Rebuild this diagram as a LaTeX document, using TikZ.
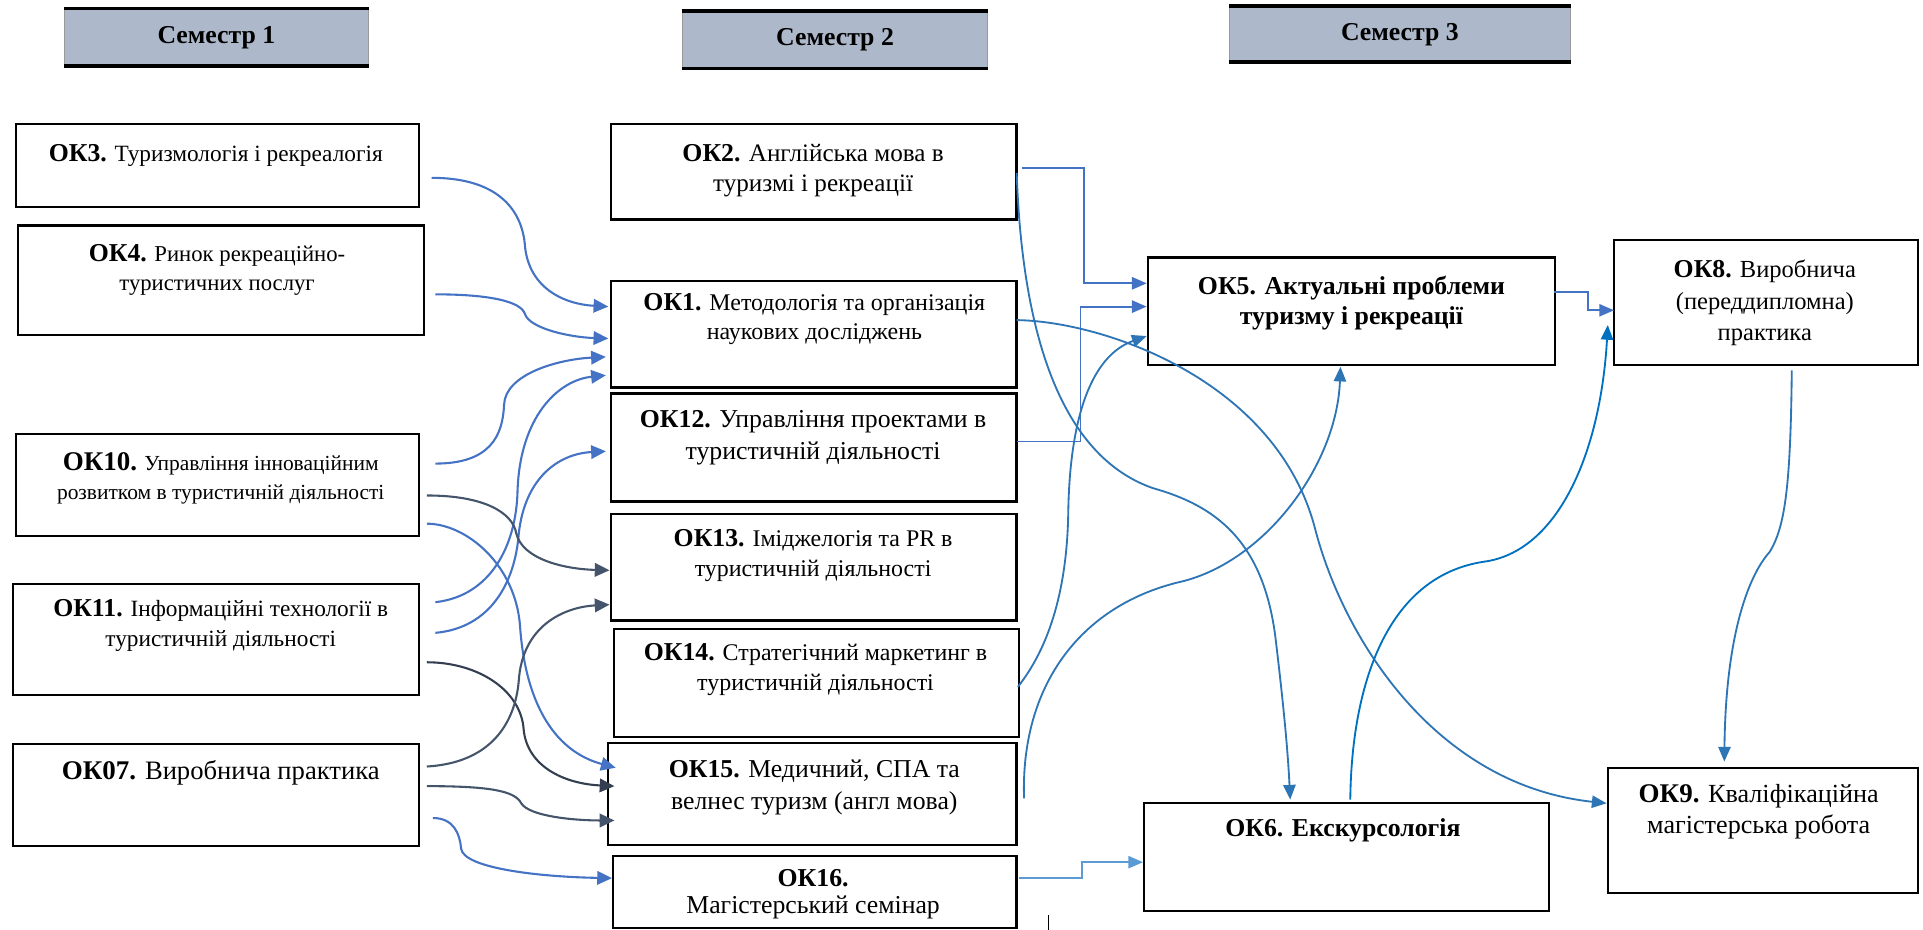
\documentclass[tikz,border=0pt]{standalone}
\usepackage{fontspec}
\setmainfont{Liberation Serif}
\usetikzlibrary{arrows.meta}
\definecolor{hdr}{HTML}{ADB9CA}
\definecolor{cA}{HTML}{4472C4}
\definecolor{cS}{HTML}{44546A}
\definecolor{cN}{HTML}{333F50}
\definecolor{cB}{HTML}{2E75B6}
\definecolor{cC}{HTML}{0070C0}
\definecolor{cL}{HTML}{5B9BD5}
\newcommand\fsz[2]{\fontsize{#1}{#2}\selectfont}
\newcommand\lbl[2][21]{{\fsz{#1}{25}\bfseries #2}}
\begin{document}
\begin{tikzpicture}[x=1pt,y=-1pt,
  box/.style={draw=black, line width=1.8pt, anchor=north west, inner sep=0pt},
  hd/.style={fill=hdr, draw=gray!80, line width=0.8pt, anchor=north west, inner sep=0pt, font=\fsz{21}{24}\bfseries},
  txt/.style={align=center, inner sep=0pt},
  conn/.style={line width=1.7pt, -{Triangle[length=12pt,width=11pt]}},
  connr/.style={line width=1.5pt, -{Triangle[length=12pt,width=10pt]}},
]
\useasboundingbox (0,0) rectangle (1568,758);

% headers
\node[hd, minimum width=248pt, minimum height=46pt] (s1) at (52,7) {Семестр 1};
\node[hd, minimum width=249pt, minimum height=46pt] (s2) at (556,9) {Семестр 2};
\node[hd, minimum width=278pt, minimum height=45pt] (s3) at (1002,5) {Семестр 3};
\foreach \h in {s1,s2,s3}{
  \draw[line width=3pt] (\h.north west) -- (\h.north east);
  \draw[line width=3pt] (\h.south west) -- (\h.south east);
}

% boxes
\node[box, minimum width=329pt, minimum height=68pt] (ok3) at (12,100) {};
\node[box, minimum width=331pt, minimum height=89pt] (ok4) at (14,183) {};
\node[box, minimum width=329pt, minimum height=83pt] (ok10) at (12,353) {};
\node[box, minimum width=331pt, minimum height=91pt] (ok11) at (10,475) {};
\node[box, minimum width=331pt, minimum height=83pt] (ok07) at (10,606) {};
\node[box, minimum width=331pt, minimum height=78pt] (ok2) at (497,100) {};
\node[box, minimum width=331pt, minimum height=87pt] (ok1) at (497,228) {};
\node[box, minimum width=331pt, minimum height=88pt] (ok12) at (497,320) {};
\node[box, minimum width=331pt, minimum height=87pt] (ok13) at (497,418) {};
\node[box, minimum width=330pt, minimum height=88pt] (ok14) at (500,512) {};
\node[box, minimum width=333pt, minimum height=83pt] (ok15) at (495,605) {};
\node[box, minimum width=329pt, minimum height=59pt] (ok16) at (499,697) {};
\node[box, minimum width=332pt, minimum height=88pt] (ok5) at (935,209) {};
\node[box, minimum width=330pt, minimum height=88pt] (ok6) at (932,654) {};
\node[box, minimum width=248pt, minimum height=102pt] (ok8) at (1315,195) {};
\node[box, minimum width=253pt, minimum height=102pt] (ok9) at (1310,625) {};

% texts
\node[txt, font=\fsz{19}{24}] (t3) at (176,127) {\lbl{ОК3.} Туризмологія і рекреалогія};
\node[txt, font=\fsz{18.5}{24}] (t4) at (177,220) {\lbl{ОК4.} Ринок рекреаційно-\\туристичних послуг};
\node[txt, font=\fsz{17.5}{24}] (t10) at (180,390) {\lbl[22]{ОК10.} Управління інноваційним\\розвитком в туристичній діяльності};
\node[txt, font=\fsz{19}{24}] (t11) at (180,510) {\lbl{ОК11.} Інформаційні технології в\\туристичній діяльності};
\node[txt, font=\fsz{21.7}{25}] (t07) at (180,630) {\lbl[22]{ОК07.} Виробнича практика};
\node[txt, font=\fsz{20.5}{24}] (t2) at (663,139) {\lbl{ОК2.} Англійська мова в\\туризмі і рекреації};
\node[txt, font=\fsz{19.5}{24}] (t1) at (664,260) {\lbl{ОК1.} Методологія та організація\\наукових досліджень};
\node[txt, font=\fsz{21}{26}] (t12) at (663,357) {\lbl{ОК12.} Управління проектами в\\туристичній діяльності};
\node[txt, font=\fsz{19.5}{25}] (t13) at (663,453) {\lbl{ОК13.} Іміджелогія та PR в\\туристичній діяльності};
\node[txt, font=\fsz{19.5}{24}] (t14) at (665,546) {\lbl{ОК14.} Стратегічний маркетинг в\\туристичній діяльності};
\node[txt, font=\fsz{21}{26}] (t15) at (664,642) {\lbl{ОК15.} Медичний, СПА та\\велнес туризм (англ мова)};
\node[txt, font=\fsz{21}{22}] (t16) at (663,729) {\lbl{ОК16.}\\Магістерський семінар};
\node[txt, font=\fsz{21}{24}\bfseries] (t5) at (1102,247) {ОК5. Актуальні проблеми\\туризму і рекреації};
\node[txt, font=\fsz{21}{24}\bfseries] (t6) at (1095,677) {ОК6. Екскурсологія};
\node[txt, font=\fsz{20}{25.5}] (t8) at (1439,247) {\lbl{ОК8.} Виробнича\\(переддипломна)\\практика};
\node[txt, font=\fsz{21.3}{25}] (t9) at (1434,662) {\lbl[22]{ОК9.} Кваліфікаційна\\магістерська робота};

% connector end points
\coordinate (a3) at (352,145);
\coordinate (a4) at (355,240);
\coordinate (a10a) at (355,378);
\coordinate (a10b) at (348,404);
\coordinate (a10c) at (348,427);
\coordinate (a11a) at (355,491);
\coordinate (a11b) at (355,516);
\coordinate (a11c) at (348,540);
\coordinate (a7a) at (348,625);
\coordinate (a7b) at (348,641);
\coordinate (a7c) at (353,667);
\coordinate (e1a) at (496,250);
\coordinate (e1b) at (496,276);
\coordinate (e1c) at (494,291);
\coordinate (e1d) at (494,306);
\coordinate (e12) at (494,368);
\coordinate (e13a) at (497,465);
\coordinate (e13b) at (497,493);
\coordinate (e15a) at (502,626);
\coordinate (e15b) at (501,641);
\coordinate (e15c) at (501,669);
\coordinate (e16) at (499,716);

% left connectors
\draw[conn, cA] (a3) .. controls (410,145) and (426,175) .. (428,200) .. controls (431,235) and (460,248) .. (e1a);
\draw[conn, cA] (a4) .. controls (400,240) and (425,246) .. (428,256) .. controls (432,268) and (465,275) .. (e1b);
\draw[conn, cA] (a10a) .. controls (400,378) and (410,355) .. (411,330) .. controls (412,305) and (455,293) .. (e1c);
\draw[conn, cA] (a11a) .. controls (400,486) and (421,445) .. (422,400) .. controls (424,340) and (455,310) .. (e1d);
\draw[conn, cA] (a11b) .. controls (400,512) and (420,475) .. (423,435) .. controls (428,390) and (455,370) .. (e12);
\draw[conn, cS] (a10b) .. controls (395,404) and (418,418) .. (421,435) .. controls (426,456) and (460,464) .. (e13a);
\draw[conn, cA] (a10c) .. controls (380,427) and (420,460) .. (424,510) .. controls (428,570) and (450,612) .. (e15a);
\draw[conn, cN] (a11c) .. controls (390,540) and (425,563) .. (427,595) .. controls (430,625) and (460,639) .. (e15b);
\draw[conn, cS] (a7a) .. controls (400,622) and (420,590) .. (423,555) .. controls (426,510) and (460,495) .. (e13b);
\draw[conn, cS] (a7b) .. controls (400,641) and (420,645) .. (425,655) .. controls (432,666) and (470,669) .. (e15c);
\draw[conn, cA] (a7c) .. controls (370,667) and (375,680) .. (376,692) .. controls (378,708) and (440,715) .. (e16);

% right connectors
\coordinate (b2a) at (833,137);
\coordinate (b2b) at (829,141);
\coordinate (b1) at (829,261);
\coordinate (b12) at (829,360);
\coordinate (b14) at (830,560);
\coordinate (b15) at (835,651);
\coordinate (b16) at (831,716);
\coordinate (b6) at (1101,652);
\coordinate (b5) at (1267,238);
\coordinate (b8) at (1461,302);
\coordinate (f5a) at (935,231);
\coordinate (f5b) at (935,250);
\coordinate (f5c) at (935,274);
\coordinate (f5d) at (1093,299);
\coordinate (f9a) at (1310,655);
\coordinate (f9b) at (1406,621);
\coordinate (f6a) at (1052,652);
\coordinate (f6b) at (932,703);
\coordinate (f8a) at (1311,265);
\coordinate (f8b) at (1316,253);

\draw[connr, cA] (b2a) -- (884,137) -- (884,231) -- (f5a);
\draw[connr, cA] (b12) -- (881,360) -- (881,250) -- (f5b);
\draw[connr, cB] (b14) .. controls (860,522) and (870,470) .. (871,420) .. controls (872,340) and (890,290) .. (f5c);
\draw[connr, cB] (b15) .. controls (832,560) and (880,495) .. (960,475) .. controls (1030,460) and (1090,380) .. (f5d);
\draw[connr, cB] (b1) .. controls (900,262) and (1040,310) .. (1072,430) .. controls (1095,520) and (1170,640) .. (f9a);
\draw[connr, cB] (b2b) .. controls (833,260) and (860,370) .. (940,398) .. controls (990,412) and (1030,440) .. (1040,520) .. controls (1046,570) and (1050,610) .. (f6a);
\draw[connr, cC] (b6) .. controls (1102,560) and (1130,470) .. (1210,458) .. controls (1270,450) and (1305,370) .. (f8a);
\draw[connr, cA] (b5) -- (1295,238) -- (1295,253) -- (f8b);
\draw[connr, cB] (b8) .. controls (1460,400) and (1455,430) .. (1443,450) .. controls (1425,470) and (1407,520) .. (f9b);
\draw[connr, cL] (b16) -- (882,716) -- (882,703) -- (f6b);

\draw[line width=1pt] (855,746) -- (855,758);
\end{tikzpicture}
\end{document}
